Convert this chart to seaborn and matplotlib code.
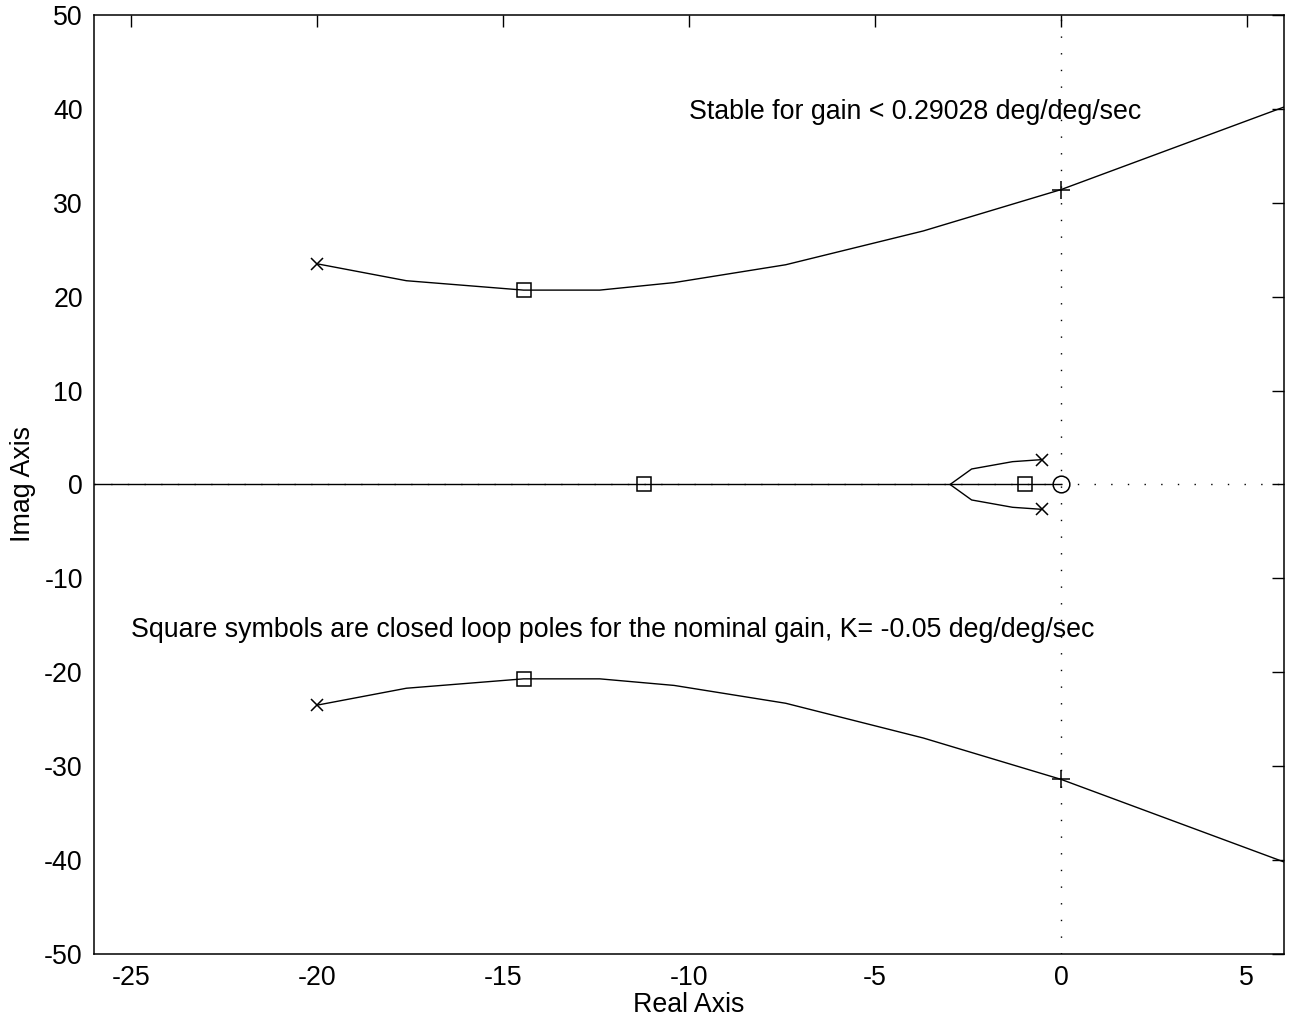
import matplotlib
matplotlib.use("Agg")
import matplotlib.pyplot as plt
import seaborn as sns
import pandas as pd

# ---- data ----
upper_x = [-20.0, -17.6, -14.45, -12.4, -10.4, -7.4, -3.7, 0.0, 6.0]
upper_y = [23.5, 21.7, 20.7, 20.7, 21.5, 23.4, 27.0, 31.4, 40.2]
lower_x = [-20.0, -17.6, -14.45, -12.4, -10.4, -7.4, -3.7, 0.0, 6.0]
lower_y = [-23.5, -21.7, -20.7, -20.7, -21.4, -23.3, -27.0, -31.4, -40.2]
small_up_x = [-0.5, -1.3, -2.4, -2.98]
small_up_y = [2.65, 2.43, 1.65, 0.0]
small_lo_x = [-0.5, -1.3, -2.4, -2.98]
small_lo_y = [-2.65, -2.43, -1.65, 0.0]
real_x = [-26.0, -2.98, 0.0]
real_y = [0.0, 0.0, 0.0]

pole_x = [-20.0, -20.0, -0.5, -0.5]
pole_y = [23.5, -23.5, 2.65, -2.65]
zero_x = [0.0]
zero_y = [0.0]
cl_x = [-14.45, -14.45, -11.2, -0.96]
cl_y = [20.7, -20.7, 0.0, 0.0]
cross_x = [0.0, 0.0]
cross_y = [31.4, -31.4]

xticks = [-25, -20, -15, -10, -5, 0, 5]
yticks = [-50, -40, -30, -20, -10, 0, 10, 20, 30, 40, 50]

label_stable = "Stable for gain < 0.29028 deg/deg/sec"
label_square = "Square symbols are closed loop poles for the nominal gain, K= -0.05 deg/deg/sec"

sns.set_style("white")
plt.rcParams['font.family'] = ['Liberation Sans', 'DejaVu Sans']
plt.rcParams['axes.linewidth'] = 1.1
plt.rcParams['text.color'] = 'black'
plt.rcParams['axes.labelcolor'] = 'black'
plt.rcParams['xtick.color'] = 'black'
plt.rcParams['ytick.color'] = 'black'

FS = 19.3

fig = plt.figure(figsize=(12.91, 10.26), dpi=100)
ax = fig.add_axes([0.0728, 0.0702, 0.9218, 0.9152])

# dotted reference axes
ax.axvline(0, color='black', lw=1.0, ls=(0, (1, 11)), zorder=1)
ax.axhline(0, color='black', lw=1.0, ls=(0, (1, 11)), zorder=1)

def branch(xs, ys):
    df = pd.DataFrame({"x": xs, "y": ys})
    sns.lineplot(data=df, x="x", y="y", sort=False, estimator=None,
                 color='black', lw=1.0, ax=ax, zorder=2)

branch(upper_x, upper_y)
branch(lower_x, lower_y)
branch(small_up_x, small_up_y)
branch(small_lo_x, small_lo_y)
branch(real_x, real_y)

ax.plot(pole_x, pole_y, ls='none', marker='x', ms=9, mew=1.1, color='black', zorder=3)
ax.plot(zero_x, zero_y, ls='none', marker='o', ms=12, mew=1.1, mfc='none', color='black', zorder=3)
ax.plot(cl_x, cl_y, ls='none', marker='s', ms=10.5, mew=1.1, mfc='none', color='black', zorder=3)
ax.plot(cross_x, cross_y, ls='none', marker='+', ms=13, mew=1.1, color='black', zorder=3)

ax.text(-10.0, 39.7, label_stable, fontsize=FS, va='center', ha='left', color='black')
ax.text(-25.0, -15.5, label_square, fontsize=FS, va='center', ha='left', color='black')

ax.set_xlim(-26, 6)
ax.set_ylim(-50, 50)
ax.set_xticks(xticks)
ax.set_yticks(yticks)
ax.set_xticklabels([str(t) for t in xticks])
ax.set_yticklabels([str(t) for t in yticks])
ax.tick_params(direction='in', length=8.5, width=1.0, top=True, right=True,
               labelsize=FS, pad=8, colors='black')
ax.set_xlabel("Real Axis", fontsize=FS, labelpad=1, color='black')
ax.set_ylabel("Imag Axis", fontsize=FS, labelpad=6, color='black')
for s in ax.spines.values():
    s.set_color('black')
    s.set_visible(True)

fig.savefig("out.png", dpi=100)
